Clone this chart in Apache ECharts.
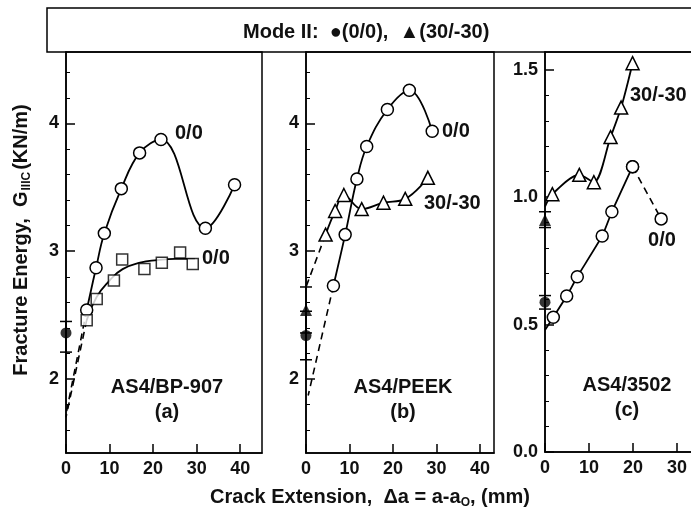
<!DOCTYPE html>
<html>
<head>
<meta charset="utf-8">
<script src="https://cdn.jsdelivr.net/npm/echarts@6/dist/echarts.min.js"></script>
<style>
  html, body { margin: 0; padding: 0; background: #fff; }
  #chart { width: 691px; height: 516px; }
</style>
</head>
<body>
<div id="chart"></div>
<script>
// ---- data ----
// (a) AS4/BP-907
const aCircX = [4.75, 6.9, 8.8, 12.7, 16.9, 21.8, 32.0, 38.7];
const aCircY = [2.54, 2.87, 3.14, 3.49, 3.77, 3.875, 3.18, 3.52];
const aSqX = [4.75, 7.05, 11.0, 12.9, 18.0, 22.0, 26.2, 29.1];
const aSqY = [2.46, 2.625, 2.77, 2.935, 2.86, 2.91, 2.99, 2.90];
const aSqFitX = [4.75, 7, 10, 13, 17, 21, 25, 29.6];
const aSqFitY = [2.46, 2.64, 2.77, 2.86, 2.91, 2.93, 2.94, 2.94];
const aCircDashX = [4.75, 0.1];
const aCircDashY = [2.54, 1.74];
const aSqDashX = [4.75, 0];
const aSqDashY = [2.46, 1.70];
const aModeII = [0, 2.36, 2.21, 2.45]; // x, mean, low, high

// (b) AS4/PEEK
const bCircX = [6.3, 9.0, 11.7, 13.95, 18.7, 23.75, 29.0];
const bCircY = [2.73, 3.13, 3.565, 3.82, 4.11, 4.26, 3.94];
const bTriX = [4.5, 6.7, 8.7, 12.8, 17.8, 22.8, 28.0];
const bTriY = [3.13, 3.315, 3.44, 3.33, 3.38, 3.41, 3.575];
const bCircDashX = [6.3, 0.5];
const bCircDashY = [2.73, 1.87];
const bTriDashX = [4.5, 0];
const bTriDashY = [3.13, 2.72];
const bModeIICirc = [0, 2.34, 2.15, 2.53];
const bModeIITri = [0, 2.54, 2.36, 2.72];

// (c) AS4/3502  (first point of each curve is where the line meets the axis)
const cTriX = [0, 1.67, 7.8, 11.1, 14.9, 17.3, 19.9];
const cTriY = [0.963, 1.012, 1.088, 1.059, 1.236, 1.352, 1.526];
const cCircX = [0, 1.89, 4.93, 7.34, 13.0, 15.2, 19.9];
const cCircY = [0.479, 0.529, 0.612, 0.688, 0.848, 0.943, 1.12];
const cCircDashX = [19.9, 26.4];
const cCircDashY = [1.12, 0.915];
const cModeIICirc = [0, 0.588, 0.561, 0.614];
const cModeIITri = [0, 0.911, 0.881, 0.943];

// ticks
const xTicks = [0, 10, 20, 30, 40];
const abMajor = [2, 3, 4];
const abMinor = [1.6, 1.8, 2.2, 2.4, 2.6, 2.8, 3.2, 3.4, 3.6, 3.8, 4.2, 4.4];
const cMajor = [0, 0.5, 1.0, 1.5];
const cMinor = [0.1, 0.2, 0.3, 0.4, 0.6, 0.7, 0.8, 0.9, 1.1, 1.2, 1.3, 1.4];

const FONT = '"Liberation Sans", Arial, Helvetica, sans-serif';

const pairs = (xs, ys) => xs.map((x, i) => [x, ys[i]]);

const chart = echarts.init(document.getElementById('chart'));

function xAxis(gridIndex, max) {
  return {
    type: 'value', gridIndex, min: 0, max,
    axisLine: { lineStyle: { color: '#000', width: 1.5 } },
    axisTick: { inside: true, length: 9, customValues: xTicks, lineStyle: { color: '#000', width: 1.5 } },
    axisLabel: { customValues: xTicks, color: '#111', fontSize: 18, fontWeight: 'bold', fontFamily: FONT, margin: 7 },
    splitLine: { show: false }
  };
}

function yMajor(gridIndex, min, max, ticks, fmt) {
  return {
    type: 'value', gridIndex, min, max,
    axisLine: { show: true, lineStyle: { color: '#000', width: 1.5 } },
    axisTick: { inside: true, length: 9, customValues: ticks, lineStyle: { color: '#000', width: 1.5 } },
    axisLabel: { customValues: ticks, color: '#111', fontSize: 18, fontWeight: 'bold', fontFamily: FONT, margin: 7, formatter: fmt },
    splitLine: { show: false }
  };
}

function yMinor(gridIndex, min, max, ticks) {
  return {
    type: 'value', gridIndex, min, max, position: 'left',
    axisLine: { show: false },
    axisTick: { show: true, inside: true, length: 4, customValues: ticks, lineStyle: { color: '#000', width: 1 } },
    axisLabel: { show: false },
    splitLine: { show: false }
  };
}

const openSym = { color: '#fff', borderColor: '#000', borderWidth: 1.5 };
const solid = { color: '#000', width: 1.8 };
const dashed = { color: '#000', width: 1.6, type: [7, 5] };

function curve(xi, yi, data, symbol, smooth) {
  return {
    type: 'line', xAxisIndex: xi, yAxisIndex: yi, data, smooth,
    symbol, symbolSize: symbol === 'triangle' ? 13 : (symbol === 'rect' ? 11 : 12),
    showAllSymbol: true, itemStyle: openSym, lineStyle: solid, z: 3, animation: false
  };
}
function dash(xi, yi, data, symbol) {
  return {
    type: 'line', xAxisIndex: xi, yAxisIndex: yi, data, symbol: symbol || 'none', symbolSize: 12,
    showAllSymbol: true, itemStyle: openSym, lineStyle: dashed, z: 2, animation: false
  };
}
function filled(xi, yi, pt, symbol) {
  return {
    type: 'scatter', xAxisIndex: xi, yAxisIndex: yi, data: [[pt[0], pt[1]]],
    symbol, symbolSize: symbol === 'triangle' ? 12 : 11, itemStyle: { color: '#000' }, z: 5, animation: false
  };
}
function errBar(xi, yi, pts) {
  return {
    type: 'custom', xAxisIndex: xi, yAxisIndex: yi,
    data: pts.map(p => [p[0], p[2], p[3]]),
    encode: { x: 0, y: [1, 2] }, z: 4, animation: false,
    renderItem: (params, api) => {
      const x = api.value(0);
      const lo = api.coord([x, api.value(1)]);
      const hi = api.coord([x, api.value(2)]);
      const w = 6;
      const style = { stroke: '#000', lineWidth: 1.5 };
      return {
        type: 'group', children: [
          { type: 'line', shape: { x1: lo[0], y1: lo[1], x2: hi[0], y2: hi[1] }, style },
          { type: 'line', shape: { x1: lo[0] - w, y1: lo[1], x2: lo[0] + w, y2: lo[1] }, style },
          { type: 'line', shape: { x1: hi[0] - w, y1: hi[1], x2: hi[0] + w, y2: hi[1] }, style }
        ]
      };
    }
  };
}

function label(text, x, y, align) {
  return {
    type: 'text', x, y, z: 10,
    style: { text, fill: '#111', fontSize: 20, fontWeight: 'bold', fontFamily: FONT, align: align || 'center', verticalAlign: 'middle' }
  };
}

const intFmt = v => String(Math.round(v));
const decFmt = v => v.toFixed(1);

const cTriData = pairs(cTriX, cTriY).map((p, i) => i === 0 ? { value: p, symbol: 'none' } : p);
const cCircData = pairs(cCircX, cCircY).map((p, i) => i === 0 ? { value: p, symbol: 'none' } : p);

const gridBase = { show: true, borderColor: '#000', borderWidth: 1.5, backgroundColor: 'transparent', outerBoundsMode: 'none', containLabel: false };

const option = {
  backgroundColor: '#fff',
  animation: false,
  title: {
    text: 'Mode II:  ●(0/0),  ▲(30/-30)',
    left: 238, top: 17,
    textStyle: { fontSize: 20, fontWeight: 'bold', fontFamily: FONT, color: '#111' }
  },
  grid: [
    Object.assign({ left: 66, top: 52, width: 196, height: 401 }, gridBase),
    Object.assign({ left: 306, top: 52, width: 188, height: 401 }, gridBase),
    Object.assign({ left: 545, top: 52, width: 198, height: 400 }, gridBase)
  ],
  xAxis: [xAxis(0, 45), xAxis(1, 43.2), xAxis(2, 45)],
  yAxis: [
    yMajor(0, 1.42, 4.56, abMajor, intFmt), yMinor(0, 1.42, 4.56, abMinor),
    yMajor(1, 1.42, 4.56, abMajor, intFmt), yMinor(1, 1.42, 4.56, abMinor),
    yMajor(2, 0, 1.57, cMajor, decFmt), yMinor(2, 0, 1.57, cMinor)
  ],
  graphic: [
    { type: 'rect', shape: { x: 47, y: 8, width: 700, height: 44 }, style: { fill: 'none', stroke: '#000', lineWidth: 1.5 }, z: 10 },
    {
      type: 'text', x: 21, y: 240, rotation: Math.PI / 2, z: 10,
      style: {
        text: '{n|Fracture Energy,  G}{s|IIIC}{n|(KN/m)}',
        align: 'center', verticalAlign: 'middle', fill: '#111',
        rich: {
          n: { fontSize: 20, fontWeight: 'bold', fontFamily: FONT, fill: '#111', lineHeight: 24 },
          s: { fontSize: 12, fontWeight: 'bold', fontFamily: FONT, fill: '#111', lineHeight: 24, padding: [11, 2, 0, 1] }
        }
      }
    },
    {
      type: 'text', x: 370, y: 497, z: 10,
      style: {
        text: '{n|Crack Extension,  Δa = a-a}{s|O}{n|, (mm)}',
        align: 'center', verticalAlign: 'middle', fill: '#111',
        rich: {
          n: { fontSize: 20, fontWeight: 'bold', fontFamily: FONT, fill: '#111', lineHeight: 24 },
          s: { fontSize: 12, fontWeight: 'bold', fontFamily: FONT, fill: '#111', lineHeight: 24, padding: [11, 0, 0, 0] }
        }
      }
    },
    label('0/0', 175, 133, 'left'),
    label('0/0', 202, 258, 'left'),
    label('AS4/BP-907', 167, 387),
    label('(a)', 167, 412),
    label('0/0', 442, 131, 'left'),
    label('30/-30', 424, 203, 'left'),
    label('AS4/PEEK', 403, 387),
    label('(b)', 403, 412),
    label('30/-30', 630, 95, 'left'),
    label('0/0', 662, 240),
    label('AS4/3502', 627, 385),
    label('(c)', 627, 410)
  ],
  series: [
    // (a)
    curve(0, 0, pairs(aCircX, aCircY), 'circle', 0.4),
    dash(0, 0, pairs(aCircDashX, aCircDashY)),
    dash(0, 0, pairs(aSqDashX, aSqDashY)),
    { type: 'line', xAxisIndex: 0, yAxisIndex: 0, data: pairs(aSqFitX, aSqFitY), smooth: 0.5, symbol: 'none', lineStyle: solid, z: 3, animation: false },
    { type: 'scatter', xAxisIndex: 0, yAxisIndex: 0, data: pairs(aSqX, aSqY), symbol: 'rect', symbolSize: 11, itemStyle: openSym, z: 4, animation: false },
    errBar(0, 0, [aModeII]),
    filled(0, 0, aModeII, 'circle'),
    // (b)
    curve(1, 2, pairs(bCircX, bCircY), 'circle', 0.4),
    curve(1, 2, pairs(bTriX, bTriY), 'triangle', 0.4),
    dash(1, 2, pairs(bCircDashX, bCircDashY)),
    dash(1, 2, pairs(bTriDashX, bTriDashY)),
    errBar(1, 2, [bModeIICirc, bModeIITri]),
    filled(1, 2, bModeIICirc, 'circle'),
    filled(1, 2, bModeIITri, 'triangle'),
    // (c)
    curve(2, 4, cTriData, 'triangle', 0.3),
    curve(2, 4, cCircData, 'circle', 0.15),
    dash(2, 4, pairs(cCircDashX, cCircDashY), 'circle'),
    errBar(2, 4, [cModeIICirc, cModeIITri]),
    filled(2, 4, cModeIICirc, 'circle'),
    filled(2, 4, cModeIITri, 'triangle')
  ]
};

chart.setOption(option);
</script>
</body>
</html>
